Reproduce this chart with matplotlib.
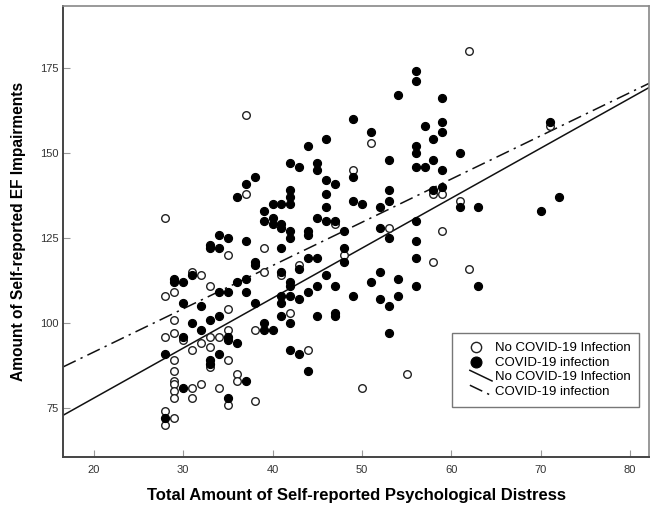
"""Scatter of EF impairments vs psychological distress, split by COVID-19 infection."""
import matplotlib

matplotlib.use("Agg")
import matplotlib.pyplot as plt  # noqa: E402
import numpy as np  # noqa: E402
from matplotlib.legend_handler import HandlerBase  # noqa: E402
from matplotlib.lines import Line2D  # noqa: E402

plt.rcParams["font.family"] = ["Liberation Sans", "DejaVu Sans"]

# --- data (distress score, EF impairment score) ---
NO_COVID_X = [37, 51, 62, 71, 37, 28, 35, 31, 32, 33, 28, 29, 35, 49, 47, 53, 58, 59, 59,
              39, 48, 58, 39, 41, 43, 42, 38, 44, 38, 50, 55, 61, 62, 29, 28, 29, 30, 33,
              34, 35, 32, 33, 31, 29, 33, 35, 29, 29, 29, 31, 32, 34, 36, 36, 29, 29, 31,
              35, 28, 29, 28]
NO_COVID_Y = [161, 153, 180, 158, 138, 131, 120, 115, 114, 111, 108, 109, 104, 145, 129,
              128, 138, 138, 127, 122, 120, 118, 115, 114, 117, 103, 98, 92, 77, 81, 85,
              136, 116, 101, 96, 97, 95, 96, 96, 98, 94, 93, 92, 89, 87, 89, 86, 83, 82,
              81, 82, 81, 85, 83, 80, 78, 78, 76, 74, 72, 70]

COVID_X = [56, 56, 54, 59, 49, 59, 57, 51, 59, 46, 58, 44, 56, 56, 53, 58, 61, 71,
           38, 37, 36, 34, 35, 37, 33, 33, 34, 38, 38, 31, 29, 29, 30, 37, 36, 34, 35,
           37, 30, 32, 38,
           42, 43, 45, 45, 56, 57, 59, 49, 46, 47, 42, 42, 42, 46, 40, 41, 46, 49, 50,
           53, 53, 52, 58, 59, 39, 39, 40, 40, 41, 41, 42, 42, 44, 44, 45, 46, 47, 48,
           52, 53, 56, 56, 41, 48, 48, 44, 45, 56, 41, 43, 46, 42, 42, 45, 47, 51, 52,
           54, 56, 41, 42, 43, 44, 49, 52, 53, 54, 41,
           41, 42, 39, 39, 40, 45, 47, 47, 53, 42, 43, 44,
           61, 63, 70, 72, 63,
           31, 33, 34, 32, 30, 35, 35, 36, 28, 33, 33, 34, 30, 37, 35, 28]
COVID_Y = [174, 171, 167, 166, 160, 159, 158, 156, 156, 154, 154, 152, 152, 150, 148,
           148, 150, 159,
           143, 141, 137, 126, 125, 124, 123, 122, 122, 118, 117, 114, 113, 112, 112,
           113, 112, 109, 109, 109, 106, 105, 106,
           147, 146, 147, 145, 146, 146, 145, 143, 142, 141, 139, 137, 135, 138, 135,
           135, 134, 136, 135, 139, 136, 134, 139, 140, 133, 130, 131, 129, 129, 128,
           127, 125, 127, 126, 131, 130, 130, 127, 128, 125, 130, 124, 122, 122, 118,
           119, 119, 119, 115, 116, 114, 112, 111, 111, 111, 112, 115, 113, 111, 108,
           108, 107, 109, 108, 107, 105, 108, 106,
           102, 100, 100, 98, 98, 102, 103, 102, 97, 92, 91, 86,
           134, 134, 133, 137, 111,
           100, 101, 102, 98, 96, 96, 95, 94, 91, 89, 88, 91, 81, 83, 78, 72]

# fit lines (intercept, slope) as drawn in the picture
FIT_NO_COVID = (48.5, 1.47)
FIT_COVID = (66.0, 1.272)

LABEL_NO = "No COVID-19 Infection"
LABEL_YES = "COVID-19 infection"


class DiagonalLine(HandlerBase):
    """SPSS-style legend key: a short line sloping down to the right."""

    def create_artists(self, legend, orig_handle, xdescent, ydescent, width, height,
                       fontsize, trans):
        x0, y0 = -xdescent, -ydescent
        line = Line2D([x0 + width * 0.3, x0 + width],
                      [y0 + height * 1.1, y0 - height * 0.05])
        self.update_prop(line, orig_handle, legend)
        line.set_transform(trans)
        return [line]


fig = plt.figure(figsize=(6.5, 5.12), dpi=100)
ax = fig.add_axes([0.0974, 0.1074, 0.901, 0.881])

ax.scatter(NO_COVID_X, NO_COVID_Y, s=30, facecolors="white", edgecolors="#222222",
           linewidths=1.0, label=LABEL_NO, zorder=3)
ax.scatter(COVID_X, COVID_Y, s=34, facecolors="black", edgecolors="black",
           linewidths=0.8, label=LABEL_YES, zorder=3)

xs = np.array([16.6, 82.1])
l_no, = ax.plot(xs, FIT_NO_COVID[0] + FIT_NO_COVID[1] * xs, color="#111111", lw=1.1,
                label=LABEL_NO, zorder=2)
l_yes, = ax.plot(xs, FIT_COVID[0] + FIT_COVID[1] * xs, color="#111111", lw=1.1,
                 linestyle=(0, (9, 3.5, 1.5, 3.5)), label=LABEL_YES, zorder=2)

ax.set_xlim(16.6, 82.1)
ax.set_ylim(60.6, 193.2)
ax.set_xticks([20, 30, 40, 50, 60, 70, 80])
ax.set_yticks([75, 100, 125, 150, 175])
ax.tick_params(direction="in", length=5, width=0.8, color="#999999",
               labelsize=8, labelcolor="#333333")
ax.tick_params(axis="x", pad=6)
for side in ["left", "bottom"]:
    ax.spines[side].set_color("#444444")
    ax.spines[side].set_linewidth(1.4)
for side in ["top", "right"]:
    ax.spines[side].set_color("#888888")
    ax.spines[side].set_linewidth(1.2)

ax.set_xlabel("Total Amount of Self-reported Psychological Distress",
              fontsize=12, fontweight="bold", labelpad=9)
ax.set_ylabel("Amount of Self-reported EF Impairments",
              fontsize=11.2, fontweight="bold", labelpad=10)

leg = ax.legend(loc="lower right", bbox_to_anchor=(0.983, 0.111), borderaxespad=0,
                fontsize=9.5, frameon=True, fancybox=False, edgecolor="#555555",
                handlelength=2.4, handletextpad=0.2, borderpad=0.65, labelspacing=0.2,
                markerscale=1.35, handler_map={l_no: DiagonalLine(), l_yes: DiagonalLine()})
leg.get_frame().set_linewidth(1.0)

fig.savefig("out.png", dpi=100)
